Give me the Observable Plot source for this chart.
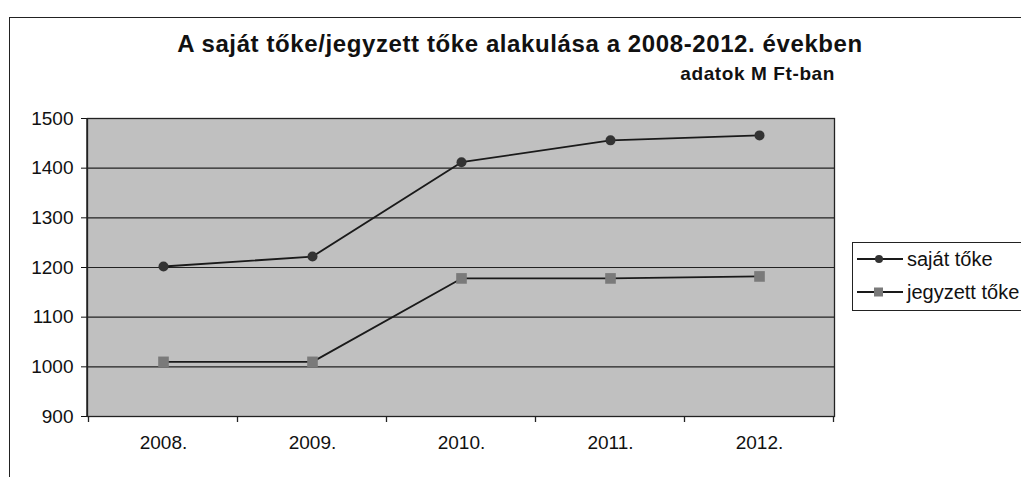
<!DOCTYPE html>
<html>
<head>
<meta charset="utf-8">
<script src="https://cdn.jsdelivr.net/npm/d3@7"></script>
<script src="https://cdn.jsdelivr.net/npm/@observablehq/plot@0.6"></script>
<style>
  html, body { margin: 0; padding: 0; background: #fff; }
  #wrap { position: relative; width: 1021px; height: 477px; overflow: hidden; font-family: "Liberation Sans", Arial, sans-serif; color: #111; }
  #frame { position: absolute; left: 9px; top: 17px; width: 1100px; height: 600px; border-left: 1.5px solid #222; border-top: 1.5px solid #222; }
  #title { position: absolute; left: 0; width: 1040px; top: 30px; text-align: center; font-weight: bold; font-size: 24px; letter-spacing: 0.6px; }
  #subtitle { position: absolute; right: 186px; top: 63px; font-weight: bold; font-size: 19px; letter-spacing: 0.6px; }
  #legend { position: absolute; left: 852px; top: 242px; width: 190px; height: 67px; border: 1.2px solid #222; background: #fff; font-size: 20px; }
  .item { position: absolute; left: 4px; height: 24px; display: flex; align-items: center; }
  .item svg { margin-right: 4px; }
  #chart { position: absolute; left: 0; top: 0; }
</style>
</head>
<body>
<div id="wrap">
  <div id="frame"></div>
  <div id="title">A saját tőke/jegyzett tőke alakulása a 2008-2012. években</div>
  <div id="subtitle">adatok M Ft-ban</div>
  <div id="chart"></div>
  <div id="legend">
    <div class="item" style="top:4px"><svg width="46" height="12"><line x1="0" y1="6" x2="46" y2="6" stroke="#1a1a1a" stroke-width="1.8"/><circle cx="22" cy="6" r="4" fill="#333"/></svg><span id="l1"></span></div>
    <div class="item" style="top:37px"><svg width="46" height="12"><line x1="0" y1="6" x2="46" y2="6" stroke="#1a1a1a" stroke-width="1.8"/><rect x="17" y="1.5" width="9" height="9" fill="#7a7a7a"/></svg><span id="l2"></span></div>
  </div>
</div>
<script>
const years = ["2008.", "2009.", "2010.", "2011.", "2012."];
const sajatToke = [1202, 1222, 1412, 1456, 1466];
const jegyzettToke = [1010, 1010, 1178, 1178, 1182];
const seriesNames = ["saját tőke", "jegyzett tőke"];
const yTicks = [900, 1000, 1100, 1200, 1300, 1400, 1500];

document.getElementById("l1").textContent = seriesNames[0];
document.getElementById("l2").textContent = seriesNames[1];

const s1 = years.map((y, i) => ({year: y, value: sajatToke[i]}));
const s2 = years.map((y, i) => ({year: y, value: jegyzettToke[i]}));

function boundaryTicks(index, scales, values, dimensions) {
  const g = d3.create("svg:g");
  const xs = years.map(y => scales.x(y));
  const step = xs[1] - xs[0];
  const bounds = xs.map(x => x - step / 2).concat([xs[xs.length - 1] + step / 2]);
  const yb = dimensions.height - dimensions.marginBottom;
  for (const b of bounds) {
    g.append("line").attr("x1", b).attr("x2", b).attr("y1", yb).attr("y2", yb + 6)
      .attr("stroke", "#222").attr("stroke-width", 1.3);
  }
  g.append("line").attr("x1", dimensions.marginLeft).attr("x2", dimensions.marginLeft)
    .attr("y1", dimensions.marginTop).attr("y2", yb).attr("stroke", "#222").attr("stroke-width", 1.5);
  return g.node();
}

const chart = Plot.plot({
  width: 1021,
  height: 477,
  marginLeft: 87,
  marginRight: 187,
  marginTop: 118,
  marginBottom: 61,
  style: {fontFamily: "'Liberation Sans', Arial, sans-serif", fontSize: "19px", background: "transparent", color: "#111"},
  x: {type: "point", domain: years, padding: 0.5, label: null, tickSize: 0, tickPadding: 19},
  y: {domain: [900, 1500], ticks: yTicks, tickFormat: d => String(d), label: null, tickSize: 6, tickPadding: 8},
  marks: [
    Plot.frame({fill: "#c0c0c0", stroke: "#222", strokeWidth: 1.3}),
    Plot.ruleY(yTicks, {stroke: "#222", strokeWidth: 1.2}),
    boundaryTicks,
    Plot.line(s1, {x: "year", y: "value", stroke: "#1a1a1a", strokeWidth: 1.8}),
    Plot.line(s2, {x: "year", y: "value", stroke: "#1a1a1a", strokeWidth: 1.8}),
    Plot.dot(s1, {x: "year", y: "value", symbol: "circle", r: 5, fill: "#333"}),
    Plot.dot(s2, {x: "year", y: "value", symbol: "square", r: 6, fill: "#7a7a7a"})
  ]
});
document.getElementById("chart").appendChild(chart);
</script>
</body>
</html>
